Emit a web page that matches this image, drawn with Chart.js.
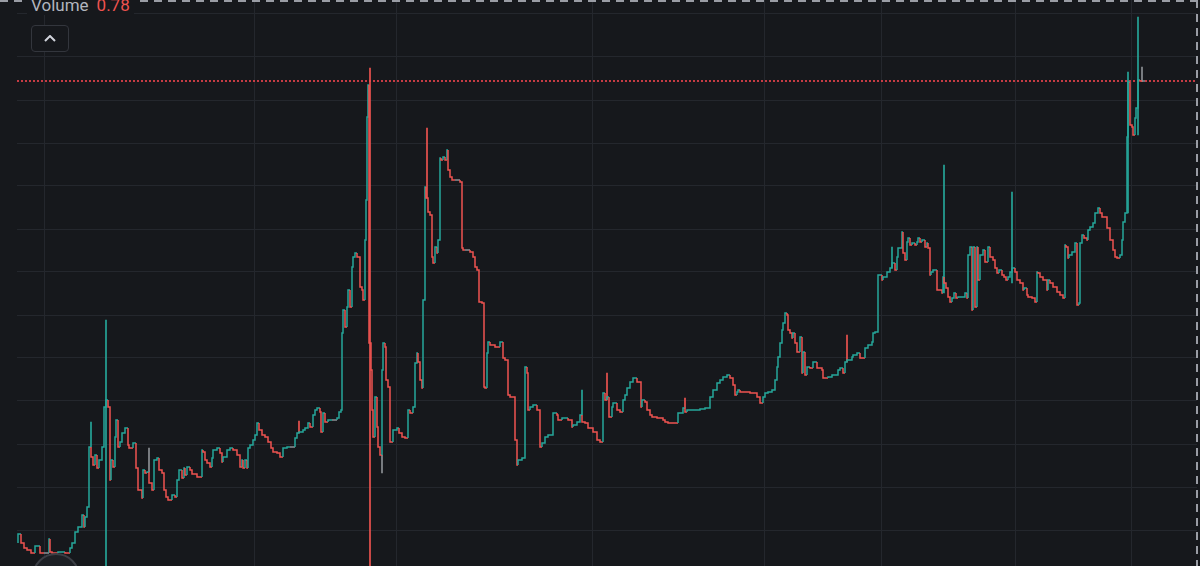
<!DOCTYPE html>
<html>
<head>
<meta charset="utf-8">
<script src="https://cdn.jsdelivr.net/npm/chart.js@4.4.1/dist/chart.umd.min.js"></script>
<style>
html, body { margin: 0; padding: 0; background: #16181c; overflow: hidden; }
.wrap { position: relative; width: 1200px; height: 566px; }
canvas { display: block; }
.legend { position: absolute; left: 27px; top: -5px; padding: 0 4px; background: #16181c; font-family: Roboto, "Noto Sans", sans-serif; font-size: 17px; color: #b2b5be; white-space: nowrap; }
.legend .val { color: #ef5350; margin-left: 8px; }
.toggle { position: absolute; left: 31px; top: 25px; width: 36px; height: 25px; border: 1px solid #33363d; border-radius: 4px; background: #16181c; }
.toggle svg { position: absolute; left: 12px; top: 9px; }
.dot { position: absolute; left: 32px; top: 553px; width: 44px; height: 44px; border-radius: 50%; border: 2px solid #3b3e45; background: #1d2025; }
</style>
</head>
<body>
<div class="wrap">
  <canvas id="priceChart" width="1200" height="566"></canvas>
  <div class="legend">Volume<span class="val">0.78</span></div>
  <div class="toggle"><svg width="12" height="7"><polyline points="1,6 6,1 11,6" fill="none" stroke="#d1d4dc" stroke-width="2"/></svg></div>
  <div class="dot"></div>
</div>
<script>
// bar number (time) and close price of each step
const barIndex = [
  1, 4, 7, 10, 14, 18, 23, 27, 32, 33,
  35, 41, 48, 53, 55, 58, 61, 65, 67, 68,
  70, 72, 74, 76, 78, 80, 82, 85, 87, 89,
  91, 93, 94, 96, 98, 99, 101, 103, 105, 108,
  111, 112, 116, 119, 121, 125, 126, 128, 130, 132,
  135, 137, 140, 142, 145, 147, 149, 151, 155, 158,
  160, 162, 165, 167, 168, 170, 173, 175, 180, 185,
  186, 188, 190, 193, 195, 196, 200, 203, 205, 206,
  210, 213, 216, 220, 223, 225, 226, 228, 230, 231,
  233, 236, 238, 240, 242, 245, 248, 251, 254, 256,
  260, 263, 266, 270, 273, 278, 280, 282, 286, 288,
  291, 293, 296, 298, 300, 303, 304, 306, 308, 311,
  315, 320, 322, 324, 325, 326, 328, 330, 331, 333,
  335, 336, 338, 340, 343, 345, 346, 348, 349, 350,
  351, 352, 354, 355, 356, 358, 360, 361, 363, 365,
  366, 368, 369, 371, 373, 376, 380, 382, 385, 388,
  391, 393, 396, 398, 400, 401, 403, 405, 406, 408,
  409, 411, 413, 415, 416, 418, 420, 421, 423, 424,
  426, 428, 430, 431, 433, 435, 438, 443, 445, 446,
  448, 453, 456, 458, 460, 462, 465, 467, 468, 470,
  471, 473, 478, 483, 486, 488, 491, 493, 498, 500,
  501, 505, 508, 510, 511, 513, 516, 520, 523, 525,
  528, 531, 536, 540, 541, 545, 551, 555, 556, 560,
  563, 565, 568, 571, 576, 580, 583, 586, 588, 590,
  592, 595, 596, 600, 603, 606, 608, 610, 613, 616,
  620, 624, 625, 628, 630, 633, 635, 640, 646, 648,
  651, 661, 666, 668, 670, 683, 688, 693, 696, 700,
  703, 706, 710, 713, 716, 718, 720, 721, 723, 733,
  740, 743, 746, 748, 751, 755, 758, 760, 761, 763,
  765, 766, 768, 770, 771, 773, 775, 776, 778, 780,
  783, 785, 786, 788, 790, 793, 796, 800, 805, 806,
  811, 815, 821, 823, 826, 828, 830, 835, 836, 840,
  843, 848, 851, 855, 856, 858, 861, 865, 866, 870,
  873, 875, 878, 880, 881, 885, 886, 888, 890, 891,
  893, 895, 898, 900, 901, 903, 905, 908, 910, 911,
  913, 914, 916, 920, 925, 926, 927, 929, 931, 933,
  935, 937, 939, 941, 948, 950, 951, 953, 955, 956,
  958, 960, 961, 963, 966, 968, 971, 973, 976, 978,
  980, 982, 985, 987, 989, 991, 993, 995, 998, 1000,
  1003, 1006, 1007, 1010, 1011, 1015, 1018, 1020, 1021, 1023,
  1026, 1030, 1031, 1033, 1036, 1040, 1043, 1046, 1048, 1049,
  1051, 1052, 1055, 1058, 1060, 1062, 1063, 1065, 1067, 1070,
  1071, 1073, 1076, 1078, 1081, 1083, 1085, 1090, 1093, 1096,
  1098, 1100, 1103, 1105, 1106, 1108, 1110, 1111, 1113, 1115,
  1116, 1118, 1119, 1121, 1123, 1125, 1128
];
const closes = [
  3.0, 3.9, 3.0, 2.5, 2.3, 2.0, 2.7, 2.0, 2.0, 3.4,
  2.1, 2.0, 2.1, 2.0, 2.5, 3.0, 4.1, 4.6, 5.8, 4.6,
  5.6, 6.6, 12.6, 11.6, 10.8, 11.8, 10.5, 11.3, 12.6, 16.6,
  17.3, 16.6, 9.3, 11.3, 10.6, 13.6, 15.3, 12.6, 13.1, 14.0,
  14.5, 12.8, 12.5, 13.0, 10.5, 8.3, 7.5, 10.3, 10.0, 10.1,
  9.0, 8.3, 11.3, 11.5, 10.3, 10.0, 8.3, 7.6, 7.3, 7.8,
  7.6, 9.3, 10.3, 9.5, 10.5, 9.8, 10.6, 10.3, 9.9, 9.6,
  12.3, 12.1, 11.3, 11.0, 10.6, 11.5, 12.3, 12.5, 12.0, 11.1,
  11.6, 12.3, 12.5, 12.3, 11.8, 10.6, 11.3, 10.5, 11.3, 10.5,
  12.5, 12.8, 13.3, 13.8, 15.0, 14.3, 13.8, 13.6, 13.1, 12.5,
  12.1, 12.0, 11.6, 12.5, 12.6, 12.6, 13.5, 14.0, 14.1, 14.3,
  14.5, 15.0, 14.6, 15.8, 16.3, 16.5, 16.1, 14.1, 16.0, 15.1,
  15.3, 15.3, 15.5, 16.1, 16.3, 24.0, 26.3, 24.6, 26.6, 28.3,
  26.6, 30.6, 31.6, 32.0, 31.6, 28.6, 28.3, 27.3, 33.3, 37.3,
  45.6, 48.8, 23.0, 20.3, 16.3, 13.6, 17.6, 14.6, 12.6, 11.8,
  20.3, 23.0, 22.6, 19.3, 18.6, 13.1, 14.3, 14.5, 14.0, 13.6,
  13.5, 16.3, 16.0, 16.6, 21.0, 22.0, 21.1, 19.3, 18.5, 27.3,
  38.6, 37.5, 36.1, 35.8, 31.6, 31.0, 32.6, 32.0, 33.3, 41.5,
  41.3, 41.6, 41.3, 42.3, 40.3, 39.6, 39.3, 39.3, 39.1, 32.5,
  32.3, 32.3, 32.1, 31.6, 30.6, 30.3, 27.1, 27.0, 18.6, 18.5,
  22.0, 23.1, 22.8, 22.6, 23.1, 21.5, 21.3, 17.8, 17.6, 13.3,
  10.8, 11.3, 11.5, 20.6, 20.0, 16.3, 16.6, 16.8, 16.3, 12.6,
  13.0, 13.6, 13.8, 16.0, 15.8, 15.3, 15.5, 15.3, 14.6, 14.8,
  15.1, 15.8, 15.1, 15.0, 14.5, 14.1, 13.3, 13.1, 18.0, 17.3,
  17.6, 15.6, 16.6, 17.0, 16.3, 16.1, 17.3, 17.8, 18.5, 19.1,
  19.5, 19.1, 16.6, 17.3, 17.1, 16.3, 15.8, 15.6, 15.5, 15.3,
  15.1, 15.0, 16.0, 16.5, 16.1, 16.3, 16.4, 16.5, 17.6, 18.3,
  19.0, 19.3, 19.6, 19.8, 19.5, 18.8, 17.8, 18.1, 18.3, 18.1,
  18.0, 17.6, 17.0, 17.6, 18.0, 18.1, 18.3, 19.3, 20.6, 21.6,
  23.0, 24.3, 25.0, 26.0, 25.8, 24.3, 24.0, 23.5, 24.0, 23.0,
  22.1, 23.6, 20.0, 22.1, 19.8, 20.6, 20.5, 21.1, 20.5, 20.3,
  19.5, 19.6, 19.8, 20.3, 20.5, 20.0, 21.1, 21.3, 21.6, 21.8,
  22.0, 21.5, 22.5, 22.8, 23.1, 24.0, 24.1, 29.8, 29.3, 29.6,
  30.1, 30.5, 31.0, 30.3, 31.6, 32.5, 34.1, 32.0, 31.3, 33.1,
  33.5, 32.8, 33.0, 32.8, 33.1, 33.5, 33.1, 33.3, 32.6, 33.0,
  32.5, 29.8, 30.1, 30.3, 28.3, 28.0, 29.6, 29.0, 28.5, 27.6,
  27.1, 27.5, 28.0, 27.5, 27.6, 28.0, 27.5, 31.8, 32.6, 26.3,
  32.6, 26.6, 32.6, 29.3, 31.8, 32.3, 31.1, 32.6, 31.6, 31.3,
  30.5, 30.0, 30.3, 29.8, 29.6, 29.3, 29.6, 30.1, 30.5, 30.1,
  29.3, 29.0, 28.3, 28.5, 27.8, 27.6, 27.5, 27.1, 30.1, 30.0,
  29.6, 29.3, 28.3, 29.3, 29.0, 28.6, 28.1, 27.8, 27.5, 32.8,
  32.6, 31.5, 31.8, 32.1, 33.0, 26.8, 27.0, 33.0, 33.8, 33.5,
  33.3, 34.3, 34.6, 35.0, 36.0, 36.5, 36.0, 35.6, 34.5, 33.3,
  32.3, 31.6, 31.5, 31.8, 33.3, 35.1, 36.0, 43.6, 49.1, 44.8,
  44.6, 43.8, 45.5, 46.5, 49.3, 49.2, 49.2
];

// long wicks (high / low) sticking out of the step line
const wickBar  = [74, 89, 132, 282, 353, 365, 410, 565, 590, 668, 830, 875, 927, 995, 1111, 1121, 1125];
const wickLow  = [12.6, 0, 10.1, 14.0, 0, 10.0, 37.5, 15.8, 17.3, 16.5, 21.1, 30.5, 28.0, 29.0, 36.0, 43.8, 49.2];
const wickHigh = [15.1, 25.3, 12.5, 15.2, 50.5, 11.8, 44.5, 18.3, 20.0, 17.5, 23.8, 32.6, 40.8, 38.1, 50.1, 55.6, 50.6];
const wickDir  = ['up', 'up', 'flat', 'down', 'down', 'flat', 'down', 'up', 'down', 'down', 'down', 'up', 'up', 'up', 'up', 'up', 'flat'];

// axis grid positions
const timeTicks = [27, 237, 380, 575, 747, 864, 998, 1114];
const priceTicks = [4.3, 8.6, 12.9, 17.2, 21.5, 25.8, 30.1, 34.4, 38.7, 43.0, 47.3, 51.6, 55.9];

const upColor = '#26a69a';
const downColor = '#ef5350';
const flatColor = '#8d9096';
const gridColor = '#24272d';

function dirColor(d) {
    return d === 'up' ? upColor : (d === 'down' ? downColor : flatColor);
}

const closePoints = barIndex.map((t, i) => ({ x: t, y: closes[i] }));
const wickPoints = wickBar.map((t, i) => ({ x: t, y: [wickLow[i], wickHigh[i]] }));
const lastClose = closes[closes.length - 1];

// dashed frame + dotted last price line
const frameDecor = {
    id: 'frameDecor',
    beforeDatasetsDraw(chart) {
        const c = chart.ctx;
        const area = chart.chartArea;
        const y = chart.scales.y.getPixelForValue(lastClose);
        c.save();
        c.strokeStyle = '#f0454f';
        c.lineWidth = 1.6;
        c.setLineDash([2, 2]);
        c.beginPath();
        c.moveTo(area.left, y);
        c.lineTo(area.right, y);
        c.stroke();
        c.restore();
    },
    afterDraw(chart) {
        const c = chart.ctx;
        c.save();
        c.strokeStyle = '#9a9da5';
        c.lineWidth = 2;
        c.setLineDash([8, 6]);
        c.beginPath();
        c.moveTo(0, 1);
        c.lineTo(chart.width, 1);
        c.moveTo(chart.width - 3, 0);
        c.lineTo(chart.width - 3, chart.height);
        c.stroke();
        c.restore();
    }
};

const ctx = document.getElementById('priceChart').getContext('2d');
new Chart(ctx, {
    type: 'line',
    data: {
        datasets: [{
            type: 'bar',
            data: wickPoints,
            backgroundColor: wickDir.map(dirColor),
            barThickness: 1,
            grouped: false,
            order: 2
        }, {
            type: 'line',
            data: closePoints,
            stepped: 'after',
            borderWidth: 1.5,
            borderColor: flatColor,
            pointRadius: 0,
            segment: {
                borderColor: s => s.p1.parsed.y > s.p0.parsed.y ? upColor : (s.p1.parsed.y < s.p0.parsed.y ? downColor : flatColor)
            },
            order: 1
        }]
    },
    options: {
        responsive: false,
        animation: false,
        layout: { padding: { left: 17, right: 3, top: 0, bottom: 0 } },
        plugins: {
            legend: { display: false },
            tooltip: { enabled: false }
        },
        scales: {
            x: {
                type: 'linear',
                min: 0,
                max: 1180,
                offset: false,
                ticks: { display: false },
                grid: { color: gridColor, drawTicks: false, offset: false },
                border: { display: false },
                afterBuildTicks: s => { s.ticks = timeTicks.map(v => ({ value: v })); }
            },
            y: {
                type: 'linear',
                position: 'right',
                min: 0.7,
                max: 57.3,
                ticks: { display: false },
                grid: { color: gridColor, drawTicks: false },
                border: { display: false },
                afterBuildTicks: s => { s.ticks = priceTicks.map(v => ({ value: v })); }
            }
        }
    },
    plugins: [frameDecor]
});
</script>
</body>
</html>
